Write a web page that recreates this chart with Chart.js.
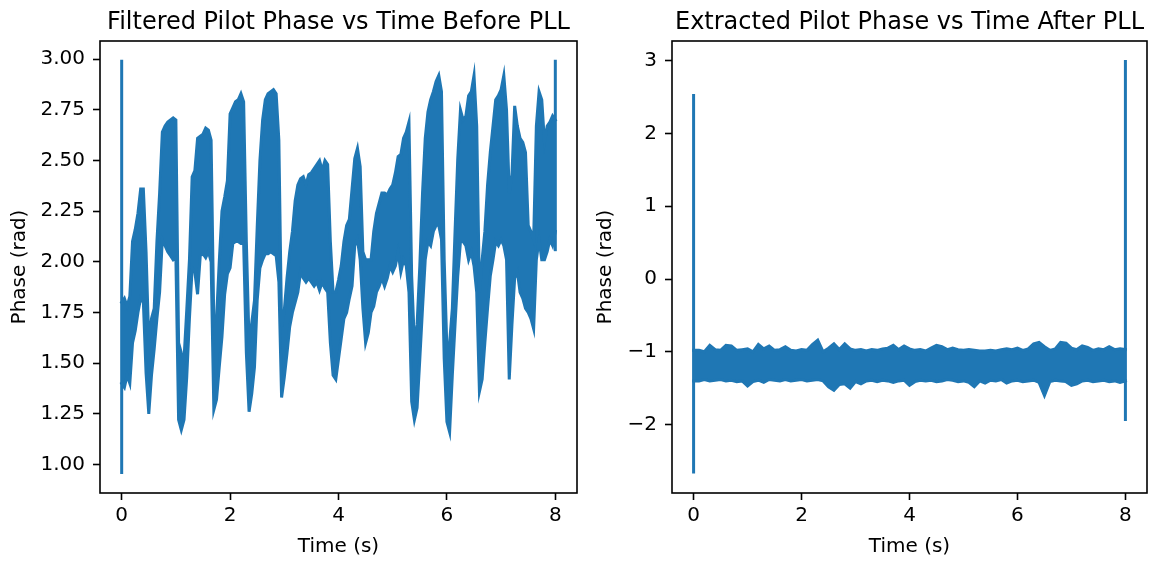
<!DOCTYPE html>
<html>
<head>
<meta charset="utf-8">
<script src="https://cdn.jsdelivr.net/npm/chart.js@4.4.0/dist/chart.umd.min.js"></script>
<style>
  body { margin: 0; background: #fff; }
  .panel { position: absolute; top: 0; height: 561px; }
</style>
</head>
<body>
<div class="panel" style="left:0;width:590px"><canvas id="leftChart"></canvas></div>
<div class="panel" style="left:590px;width:570px"><canvas id="rightChart"></canvas></div>
<script>
// tiempos de muestreo (s) de la envolvente, panel izquierdo
var leftTime = [
  0.00,0.05,0.10,0.15,0.20,0.25,0.30,0.35,0.40,0.45,
  0.50,0.55,0.60,0.65,0.70,0.75,0.80,0.85,0.90,0.95,
  1.00,1.05,1.10,1.15,1.20,1.25,1.30,1.35,1.40,1.45,
  1.50,1.55,1.60,1.65,1.70,1.75,1.80,1.85,1.90,1.95,
  2.00,2.05,2.10,2.15,2.20,2.25,2.30,2.35,2.40,2.45,
  2.50,2.55,2.60,2.65,2.70,2.75,2.80,2.85,2.90,2.95,
  3.00,3.05,3.10,3.15,3.20,3.25,3.30,3.35,3.40,3.45,
  3.50,3.55,3.60,3.65,3.70,3.75,3.80,3.85,3.90,3.95,
  4.00,4.05,4.10,4.15,4.20,4.25,4.30,4.35,4.40,4.45,
  4.50,4.55,4.60,4.65,4.70,4.75,4.80,4.85,4.90,4.95,
  5.00,5.05,5.10,5.15,5.20,5.25,5.30,5.35,5.40,5.45,
  5.50,5.55,5.60,5.65,5.70,5.75,5.80,5.85,5.90,5.95,
  6.00,6.05,6.10,6.15,6.20,6.25,6.30,6.35,6.40,6.45,
  6.50,6.55,6.60,6.65,6.70,6.75,6.80,6.85,6.90,6.95,
  7.00,7.05,7.10,7.15,7.20,7.25,7.30,7.35,7.40,7.45,
  7.50,7.55,7.60,7.65,7.70,7.75,7.80,7.85,7.90,7.95,
  8.00
];
// borde superior de la banda (rad)
var leftUpper = [
  1.80,1.82,1.78,1.83,2.10,2.16,2.24,2.36,2.36,2.05,
  1.60,1.72,1.77,2.10,2.34,2.64,2.67,2.69,2.70,2.71,
  2.70,1.60,1.55,1.52,1.76,2.01,2.42,2.45,2.61,2.62,
  2.63,2.66,2.65,2.60,1.70,1.72,2.00,2.25,2.32,2.40,
  2.73,2.76,2.79,2.80,2.83,2.79,2.10,1.60,1.70,1.81,
  2.17,2.50,2.70,2.80,2.83,2.84,2.85,2.83,2.60,1.68,
  1.76,1.92,2.05,2.15,2.30,2.38,2.41,2.42,2.38,2.43,
  2.44,2.46,2.48,2.50,2.45,2.50,2.48,2.10,1.85,1.85,
  1.91,1.98,2.10,2.18,2.21,2.36,2.51,2.56,2.47,2.05,
  2.01,2.01,2.01,2.15,2.24,2.29,2.34,2.34,2.33,2.36,
  2.38,2.44,2.52,2.53,2.61,2.64,2.69,1.93,1.60,1.69,
  1.98,2.34,2.61,2.74,2.80,2.84,2.89,2.92,2.84,2.01,
  1.57,1.60,1.77,2.15,2.51,2.75,2.70,2.72,2.82,2.84,
  2.92,2.67,1.85,2.01,2.15,2.38,2.54,2.67,2.80,2.82,
  2.85,2.92,2.75,2.34,2.43,2.77,2.67,2.61,2.59,2.54,
  2.18,2.15,2.11,2.67,2.84,2.80,2.59,2.67,2.69,2.72,
  2.70
];
// borde inferior de la banda (rad)
var leftLower = [
  1.40,1.38,1.44,1.40,1.60,1.66,1.75,1.82,1.80,1.45,
  1.25,1.44,1.57,1.72,1.85,2.11,2.08,2.05,2.03,2.01,
  2.02,1.22,1.17,1.22,1.43,1.72,1.97,1.95,1.84,2.03,
  2.04,2.02,2.05,2.00,1.27,1.32,1.48,1.63,1.84,1.94,
  1.97,2.09,2.10,2.10,2.09,2.09,1.55,1.26,1.35,1.48,
  1.81,1.97,2.01,2.04,2.04,2.05,2.04,2.03,1.90,1.33,
  1.43,1.55,1.68,1.75,1.80,1.85,1.95,1.92,1.90,1.92,
  1.90,1.88,1.90,1.86,1.90,1.87,1.85,1.60,1.44,1.42,
  1.52,1.62,1.72,1.75,1.82,1.88,2.08,2.11,2.01,1.77,
  1.60,1.65,1.75,1.78,1.85,1.88,1.92,1.88,1.92,1.98,
  1.95,1.98,2.05,1.95,2.01,1.98,1.85,1.31,1.22,1.28,
  1.52,1.77,2.01,2.10,2.08,2.15,2.18,2.18,2.11,1.52,
  1.21,1.16,1.44,1.69,1.93,2.10,2.10,2.08,2.01,2.05,
  1.98,1.85,1.36,1.42,1.60,1.77,1.93,2.01,2.10,2.08,
  2.11,2.08,2.01,1.42,1.69,1.92,1.95,1.85,1.82,1.77,
  1.75,1.72,1.67,2.01,2.11,2.01,2.01,2.05,2.11,2.08,
  2.15
];
// picos verticales al inicio y al final (t, fase)
var leftSpikeTime = [0, 0];
var leftSpikeStart = [0.96, 2.99];
var leftSpikeEndTime = [8, 8];
var leftSpikeEnd = [2.06, 2.99];

// panel derecho: banda tras el PLL
var rightTime = [
  0.0,0.1,0.2,0.3,0.4,0.5,0.6,0.7,0.8,0.9,
  1.0,1.1,1.2,1.3,1.4,1.5,1.6,1.7,1.8,1.9,
  2.0,2.1,2.2,2.3,2.4,2.5,2.6,2.7,2.8,2.9,
  3.0,3.1,3.2,3.3,3.4,3.5,3.6,3.7,3.8,3.9,
  4.0,4.1,4.2,4.3,4.4,4.5,4.6,4.7,4.8,4.9,
  5.0,5.1,5.2,5.3,5.4,5.5,5.6,5.7,5.8,5.9,
  6.0,6.1,6.2,6.3,6.4,6.5,6.6,6.7,6.8,6.9,
  7.0,7.1,7.2,7.3,7.4,7.5,7.6,7.7,7.8,7.9,
  8.0
];
var rightUpper = [
  -0.98,-0.98,-1.00,-0.91,-0.97,-0.98,-0.91,-0.92,-0.98,-0.97,
  -0.96,-1.00,-0.90,-0.96,-0.92,-0.98,-0.97,-0.93,-0.98,-0.99,
  -0.97,-0.98,-0.90,-0.84,-1.00,-0.95,-0.89,-0.97,-0.89,-0.96,
  -0.98,-0.97,-0.99,-0.97,-0.98,-0.96,-0.95,-0.91,-0.97,-0.92,
  -0.96,-0.98,-0.97,-0.99,-0.95,-0.91,-0.93,-0.97,-0.95,-0.97,
  -0.98,-0.97,-0.98,-0.99,-0.99,-0.98,-0.99,-0.97,-0.96,-0.97,
  -0.95,-0.98,-0.96,-0.89,-0.87,-0.93,-0.98,-0.96,-0.87,-0.88,
  -0.95,-0.97,-0.92,-0.94,-0.98,-0.96,-0.97,-0.93,-0.97,-0.96,
  -0.97
];
var rightLower = [
  -1.40,-1.40,-1.38,-1.40,-1.39,-1.38,-1.40,-1.39,-1.41,-1.40,
  -1.47,-1.41,-1.39,-1.42,-1.38,-1.39,-1.40,-1.38,-1.40,-1.39,
  -1.38,-1.40,-1.39,-1.38,-1.40,-1.48,-1.53,-1.45,-1.44,-1.50,
  -1.41,-1.44,-1.40,-1.39,-1.41,-1.39,-1.40,-1.42,-1.40,-1.39,
  -1.46,-1.41,-1.39,-1.40,-1.39,-1.41,-1.40,-1.38,-1.39,-1.41,
  -1.40,-1.42,-1.48,-1.40,-1.43,-1.39,-1.40,-1.38,-1.43,-1.40,
  -1.39,-1.41,-1.40,-1.39,-1.42,-1.60,-1.41,-1.39,-1.40,-1.41,
  -1.46,-1.44,-1.40,-1.39,-1.41,-1.40,-1.39,-1.41,-1.40,-1.42,
  -1.40
];
var rightSpikeTime = [0, 0];
var rightSpikeStart = [-2.65, 2.52];
var rightSpikeEndTime = [8, 8];
var rightSpikeEnd = [-1.93, 2.99];

// ticks
var xTicks = [0, 2, 4, 6, 8];
var leftYTicks = [1.00, 1.25, 1.50, 1.75, 2.00, 2.25, 2.50, 2.75, 3.00];
var rightYTicks = [-2, -1, 0, 1, 2, 3];

var azul = '#1f77b4';
Chart.defaults.font.family = '"DejaVu Sans", sans-serif';
Chart.defaults.font.size = 20;
Chart.defaults.color = '#000';

function puntos(xs, ys) {
  return xs.map(function (x, i) { return {x: x, y: ys[i]}; });
}

// marco completo de los ejes + título centrado sobre el área
var marco = {
  id: 'marco',
  afterDraw: function (chart, args, opts) {
    var a = chart.chartArea, c = chart.ctx;
    c.save();
    c.strokeStyle = '#000';
    c.lineWidth = 1.6;
    c.strokeRect(a.left, a.top, a.right - a.left, a.bottom - a.top);
    c.fillStyle = '#000';
    c.font = '24px "DejaVu Sans"';
    c.textAlign = 'center';
    c.textBaseline = 'alphabetic';
    c.fillText(opts.text, (a.left + a.right) / 2, a.top - 12.5);
    c.restore();
  }
};

function linea(data, extra) {
  var d = {
    data: data,
    borderColor: azul,
    backgroundColor: azul,
    borderWidth: 3,
    pointRadius: 0,
    tension: 0,
    fill: false,
    borderCapStyle: 'square'
  };
  for (var k in extra) d[k] = extra[k];
  return d;
}

function panel(id, p) {
  var ctx = document.getElementById(id).getContext('2d');
  return new Chart(ctx, {
    type: 'line',
    data: {
      datasets: [
        linea(puntos(p.time, p.upper)),
        linea(puntos(p.time, p.lower), {fill: '-1'}),
        linea(puntos(p.s1x, p.s1y)),
        linea(puntos(p.s2x, p.s2y))
      ]
    },
    plugins: [marco],
    options: {
      responsive: true,
      maintainAspectRatio: false,
      animation: false,
      layout: {padding: {top: 41, right: 13, left: 0, bottom: 0}},
      plugins: {
        legend: {display: false},
        tooltip: {enabled: false},
        marco: {text: p.title}
      },
      scales: {
        x: {
          type: 'linear',
          min: -0.4, max: 8.4,
          afterBuildTicks: function (s) { s.ticks = xTicks.map(function (v) { return {value: v}; }); },
          afterFit: function (s) { s.height = 68; },
          grid: {drawOnChartArea: false, tickLength: 7, tickWidth: 1.6, tickColor: '#000'},
          border: {display: false},
          ticks: {padding: 4, maxRotation: 0, autoSkip: false, callback: function (v) { return String(v); }},
          title: {display: true, text: 'Time (s)', padding: {top: 0, bottom: 2}}
        },
        y: {
          min: p.ymin, max: p.ymax,
          afterBuildTicks: function (s) { s.ticks = p.yTicks.map(function (v) { return {value: v}; }); },
          afterFit: function (s) { s.width = p.yWidth; },
          grid: {drawOnChartArea: false, tickLength: 7, tickWidth: 1.6, tickColor: '#000'},
          border: {display: false},
          ticks: {padding: 8, autoSkip: false, callback: p.fmt},
          title: {display: true, text: 'Phase (rad)', padding: {top: p.titlePad, bottom: 0}}
        }
      }
    }
  });
}

panel('leftChart', {
  title: 'Filtered Pilot Phase vs Time Before PLL',
  time: leftTime, upper: leftUpper, lower: leftLower,
  s1x: leftSpikeTime, s1y: leftSpikeStart, s2x: leftSpikeEndTime, s2y: leftSpikeEnd,
  ymin: 0.859, ymax: 3.09, yTicks: leftYTicks, yWidth: 100, titlePad: 8,
  fmt: function (v) { return v.toFixed(2); }
});

panel('rightChart', {
  title: 'Extracted Pilot Phase vs Time After PLL',
  time: rightTime, upper: rightUpper, lower: rightLower,
  s1x: rightSpikeTime, s1y: rightSpikeStart, s2x: rightSpikeEndTime, s2y: rightSpikeEnd,
  ymin: -2.94, ymax: 3.27, yTicks: rightYTicks, yWidth: 82, titlePad: 4,
  fmt: function (v) { return v < 0 ? '\u2212' + Math.abs(v) : String(v); }
});
</script>
</body>
</html>
